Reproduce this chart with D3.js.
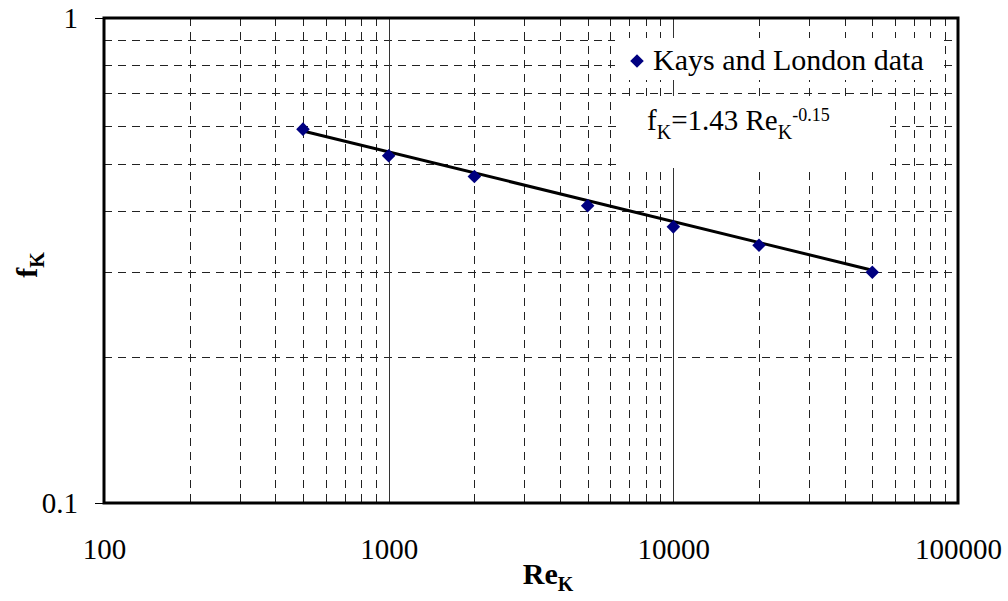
<!DOCTYPE html>
<html>
<head>
<meta charset="utf-8">
<script src="https://cdn.jsdelivr.net/npm/d3@7.9.0/dist/d3.min.js"></script>
<style>
  html, body { margin: 0; padding: 0; background: #fff; }
  svg text { font-family: "Liberation Serif", "Times New Roman", "DejaVu Serif", serif !important; }
</style>
</head>
<body>
<div id="chart"></div>
<script>
// Kays and London data
const reValues = [500, 1000, 2000, 5000, 10000, 20000, 50000];
const fValues = [0.590, 0.520, 0.471, 0.410, 0.371, 0.340, 0.299];

// trendline end points as drawn
const trendRe = [500, 50000];
const trendF = [0.585, 0.302];

const xTickValues = [100, 1000, 10000, 100000];
const yTickValues = [0.1, 1];
const xMinorValues = [200, 300, 400, 500, 600, 700, 800, 900,
  2000, 3000, 4000, 5000, 6000, 7000, 8000, 9000,
  20000, 30000, 40000, 50000, 60000, 70000, 80000, 90000];
const yMinorValues = [0.2, 0.3, 0.4, 0.5, 0.6, 0.7, 0.8, 0.9];

const width = 1008;
const height = 601;
const margin = { top: 18, right: 50, bottom: 98, left: 104 };
const plot = {
  left: margin.left,
  right: width - margin.right,
  top: margin.top,
  bottom: height - margin.bottom
};

const svg = d3.select('#chart')
  .append('svg')
  .attr('width', width)
  .attr('height', height)
  .attr('viewBox', `0 0 ${width} ${height}`);

const x = d3.scaleLog().domain([100, 100000]).range([plot.left, plot.right]);
const y = d3.scaleLog().domain([0.1, 1]).range([plot.bottom, plot.top]);

// gridlines
const grid = svg.append('g').attr('class', 'grid');

grid.selectAll('line.hminor')
  .data(yMinorValues)
  .join('line')
  .attr('x1', plot.left).attr('x2', plot.right)
  .attr('y1', d => Math.round(y(d)) + 0.5).attr('y2', d => Math.round(y(d)) + 0.5)
  .attr('stroke', '#222')
  .attr('stroke-width', 1)
  .attr('stroke-dasharray', '8,6');

grid.selectAll('line.vminor')
  .data(xMinorValues)
  .join('line')
  .attr('x1', d => Math.round(x(d)) + 0.5).attr('x2', d => Math.round(x(d)) + 0.5)
  .attr('y1', plot.top).attr('y2', plot.bottom)
  .attr('stroke', '#222')
  .attr('stroke-width', 1)
  .attr('stroke-dasharray', '8,6');

grid.selectAll('line.vmajor')
  .data(xTickValues.slice(1, -1))
  .join('line')
  .attr('x1', d => Math.round(x(d)) + 0.5).attr('x2', d => Math.round(x(d)) + 0.5)
  .attr('y1', plot.top).attr('y2', plot.bottom)
  .attr('stroke', '#333')
  .attr('stroke-width', 1);

// legend and equation boxes (white fill over the grid)
svg.append('rect')
  .attr('x', 615).attr('y', 38).attr('width', 325).attr('height', 42)
  .attr('fill', '#fff');
svg.append('rect')
  .attr('x', 622).attr('y', 96).attr('width', 268).attr('height', 72)
  .attr('fill', '#fff');

// trendline
const line = d3.line()
  .x(d => x(d[0]))
  .y(d => y(d[1]));

svg.append('path')
  .datum(d3.zip(trendRe, trendF))
  .attr('d', line)
  .attr('fill', 'none')
  .attr('stroke', '#000')
  .attr('stroke-width', 3);

// markers
const diamond = d3.symbol(d3.symbolSquare, 92);
svg.append('g')
  .selectAll('path')
  .data(d3.zip(reValues, fValues))
  .join('path')
  .attr('d', diamond)
  .attr('transform', d => `translate(${x(d[0])},${y(d[1])}) rotate(45)`)
  .attr('fill', '#000080');

// frame
svg.append('rect')
  .attr('x', plot.left).attr('y', plot.top)
  .attr('width', plot.right - plot.left).attr('height', plot.bottom - plot.top)
  .attr('fill', 'none')
  .attr('stroke', '#000')
  .attr('stroke-width', 3);

// y axis
const yAxis = d3.axisLeft(y)
  .tickValues(yTickValues)
  .tickSize(9)
  .tickPadding(17)
  .tickFormat(d => d === 1 ? '1' : '0.1');

svg.append('g')
  .attr('transform', `translate(${plot.left},0)`)
  .call(yAxis)
  .call(g => g.select('.domain').remove())
  .call(g => g.selectAll('.tick line').attr('stroke', '#000'))
  .call(g => g.selectAll('.tick text')
    .attr('font-size', 29)
    .attr('fill', '#000'));

// x axis
const xAxis = d3.axisBottom(x)
  .tickValues(xTickValues)
  .tickSize(0)
  .tickPadding(35)
  .tickFormat(d3.format('d'));

svg.append('g')
  .attr('transform', `translate(0,${plot.bottom})`)
  .call(xAxis)
  .call(g => g.select('.domain').remove())
  .call(g => g.selectAll('.tick text')
    .attr('font-size', 29)
    .attr('fill', '#000'));

// axis titles
const xTitle = svg.append('text')
  .attr('x', 548)
  .attr('y', 584)
  .attr('text-anchor', 'middle')
  .attr('font-weight', 'bold')
  .attr('font-size', 30);
xTitle.append('tspan').text('Re');
xTitle.append('tspan').attr('font-size', 20).attr('dy', 7).text('K');

const yTitle = svg.append('text')
  .attr('transform', 'translate(37,265) rotate(-90)')
  .attr('text-anchor', 'middle')
  .attr('font-weight', 'bold')
  .attr('font-size', 30);
yTitle.append('tspan').text('f');
yTitle.append('tspan').attr('font-size', 20).attr('dy', 7).text('K');

// legend
svg.append('path')
  .attr('d', diamond)
  .attr('transform', 'translate(637,61) rotate(45)')
  .attr('fill', '#000080');

svg.append('text')
  .attr('x', 653)
  .attr('y', 70)
  .attr('font-size', 30)
  .text('Kays and London data');

// equation label
const eq = svg.append('text')
  .attr('x', 647)
  .attr('y', 130)
  .attr('font-size', 29);
eq.append('tspan').text('f');
eq.append('tspan').attr('font-size', 20).attr('dy', 9).text('K');
eq.append('tspan').attr('dy', -9).text('=1.43 Re');
eq.append('tspan').attr('font-size', 20).attr('dy', 9).text('K');
eq.append('tspan').attr('font-size', 18).attr('dy', -18).text('-0.15');
</script>
</body>
</html>
